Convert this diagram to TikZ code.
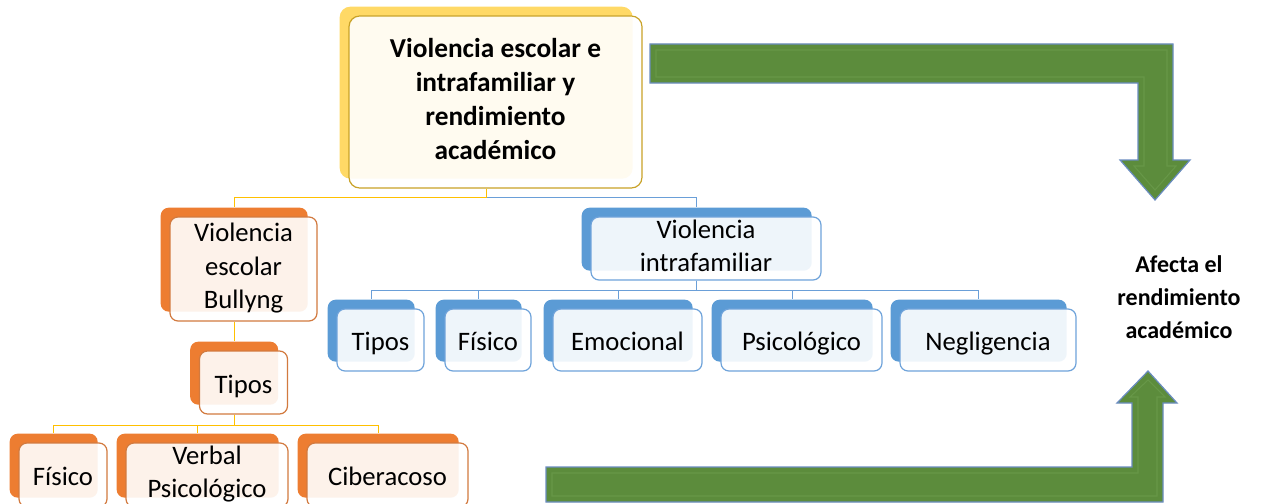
\documentclass[tikz,border=0pt]{standalone}
\usepackage{fontspec}
\setmainfont{Carlito}
\usetikzlibrary{shadows,backgrounds}

\definecolor{amarilloF}{HTML}{FFD966}
\definecolor{amarilloB}{HTML}{C9A227}
\definecolor{amarilloL}{HTML}{FFC000}
\definecolor{naranjaF}{HTML}{ED7D31}
\definecolor{naranjaB}{HTML}{D27A3F}
\definecolor{azulF}{HTML}{5B9BD5}
\definecolor{azulB}{HTML}{6FA3DA}
\definecolor{azulL}{HTML}{6A9FD8}
\definecolor{verde}{HTML}{5C8C3C}
\definecolor{verdeB}{HTML}{6A8CC0}
\definecolor{verdeC}{HTML}{679748}

\newcommand{\altoT}{\rule{0pt}{\dimexpr0.7\baselineskip+3pt\relax}}
\newcommand{\bajoT}{\rule[\dimexpr-0.3\baselineskip+3pt\relax]{0pt}{\dimexpr0.3\baselineskip-3pt\relax}}

\begin{document}
\begin{tikzpicture}[x=0.75pt,y=-0.75pt,
	tam/.style 2 args={minimum width=#1*0.75pt,minimum height=#2*0.75pt},
	atras/.style={general shadow={shadow xshift=-7pt,shadow yshift=7pt,fill=#1,fill opacity=1}},
	caja/.style={shape=rectangle,rounded corners=6pt,fill=white,fill opacity=0.9,text opacity=1,line width=0.9pt,align=center,inner sep=0pt,font=\fontsize{20}{25}\selectfont,execute at begin node=\altoT,execute at end node=\bajoT},
	amarillo/.style={caja,draw=amarilloB,atras=amarilloF,rounded corners=8pt},
	naranja/.style={caja,draw=naranjaB,atras=naranjaF},
	azul/.style={caja,draw=azulB,atras=azulF},
	lamarillo/.style={draw=amarilloL,line width=1pt},
	lazul/.style={draw=azulL,line width=1pt},
	flecha/.style={fill=verde,draw=verdeB,line width=0.9pt},
	bisel/.style={draw=verdeC,line width=0.8pt},
	afecta/.style={align=center,font=\bfseries\fontsize{18}{25}\selectfont}]
	\useasboundingbox (0,0) rectangle (1262,503);
	\clip (0,0) rectangle (1262,503);

	\node[amarillo,tam={293}{172},font=\bfseries\fontsize{20.5}{25.5}\selectfont] (tema) at (495.5,102) {Violencia escolar e\\intrafamiliar y\\rendimiento\\académico};

	\node[naranja,tam={147}{104}] (bully) at (243.5,269) {Violencia\\escolar\\Bullyng};
	\node[naranja,tam={88}{63}] (tipos) at (243.5,382.5) {Tipos};
	\node[naranja,tam={88}{64}] (fisico) at (63,475) {Físico};
	\node[naranja,tam={162}{64}] (verbal) at (207,475) {Verbal\\Psicológico};
	\node[naranja,tam={161}{64}] (ciber) at (387.5,475) {Ciberacoso};

	\node[azul,tam={230}{63}] (familia) at (706,248.5) {Violencia\\intrafamiliar};
	\node[azul,tam={87}{62}] (tiposA) at (380.5,340) {Tipos};
	\node[azul,tam={86}{62}] (fisicoA) at (488,340) {Físico};
	\node[azul,tam={149}{62}] (emocional) at (627.5,340) {Emocional};
	\node[azul,tam={161}{62}] (psico) at (801.5,340) {Psicológico};
	\node[azul,tam={176}{62}] (negli) at (988,340) {Negligencia};

	\node[afecta] (efecto) at (1179,297) {Afecta el\\rendimiento\\académico};

	\begin{scope}[on background layer]
		\draw[lazul] ([xshift=-7pt]tema.south) -- ++(0,9) -| ([xshift=-7pt,yshift=7pt]familia.north);
		\draw[lamarillo] ([xshift=-7pt]tema.south) -- ++(0,9) -| ([xshift=-7pt,yshift=7pt]bully.north);
		\draw[lamarillo] ([xshift=-7pt]bully.south) -- ([xshift=-7pt,yshift=7pt]tipos.north);
		\foreach \n in {fisico,verbal,ciber}
			\draw[lamarillo] ([xshift=-7pt]tipos.south) -- ++(0,11) -| ([xshift=-7pt,yshift=7pt]\n.north);
		\foreach \n in {tiposA,fisicoA,emocional,psico,negli}
			\draw[lazul] ([xshift=-7pt]familia.south) -- ++(0,10) -| ([xshift=-7pt,yshift=7pt]\n.north);
	\end{scope}

	\draw[flecha] (650,44) -- (1173,44) -- (1173,160) -- (1190,160) -- (1155,200) -- (1120,160) -- (1138,160) -- (1138,83) -- (650,83) -- cycle;
	\draw[bisel] (656,50) -- (1167,50) -- (1167,166) -- (1176,166) -- (1155,190) -- (1134,166) -- (1144,166) -- (1144,77) -- (656,77) -- cycle;

	\draw[flecha] (546,467) -- (1132,467) -- (1132,403) -- (1117,403) -- (1148,371) -- (1177,403) -- (1163,403) -- (1163,502) -- (546,502) -- cycle;
	\draw[bisel] (552,473) -- (1138,473) -- (1138,397) -- (1130,397) -- (1148,380) -- (1165,397) -- (1157,397) -- (1157,496) -- (552,496) -- cycle;
\end{tikzpicture}
\end{document}
